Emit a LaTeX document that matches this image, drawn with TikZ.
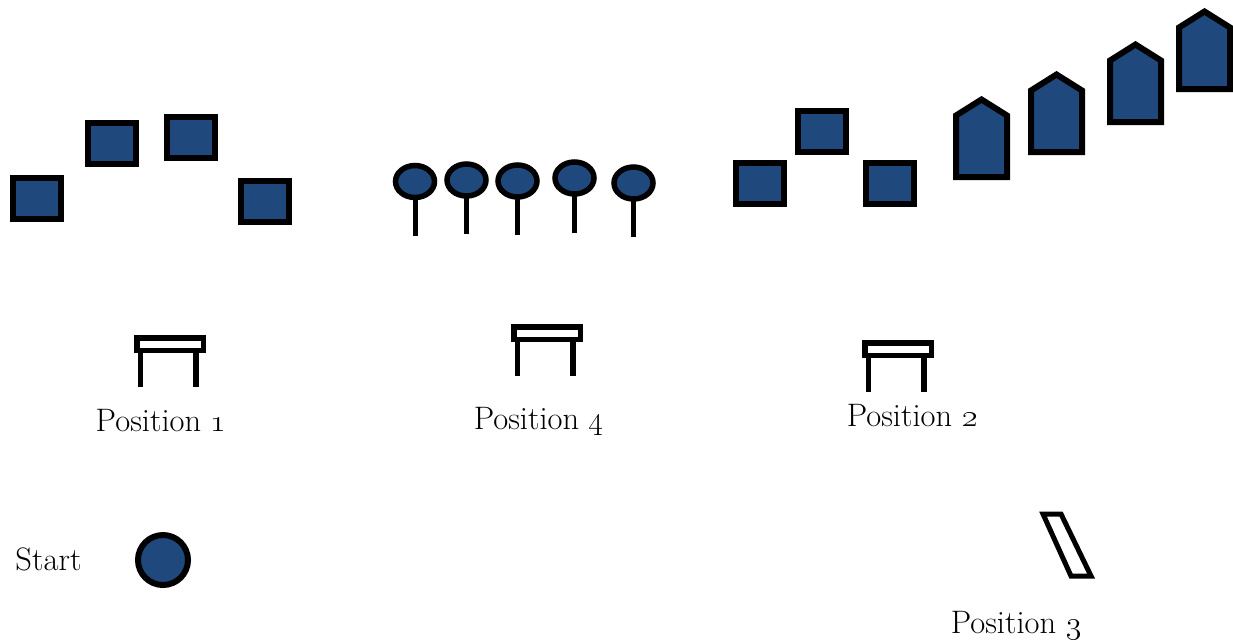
\documentclass[tikz,border=0pt]{standalone}
\usepackage{fix-cm}
\usetikzlibrary{shapes.geometric}
\definecolor{navy}{HTML}{1F497D}
\begin{document}
\begin{tikzpicture}[x=1pt,y=-1pt,
        block/.style={rectangle,draw,fill=navy,line width=6pt,inner sep=0pt,minimum width=48pt,minimum height=41pt},
        flag/.style={ellipse,draw,fill=navy,line width=5.5pt,inner sep=0pt,minimum width=39pt,minimum height=32pt},
        post/.style={line width=5pt},
        roof/.style={draw,fill=navy,line width=6pt,line join=miter},
        desk/.style={line width=5.5pt},
        caption/.style={anchor=base,inner sep=0pt,font=\fontsize{32.5}{39}\selectfont}]
    \useasboundingbox (0,0) rectangle (1233,641);
    % blocks
    \node[block] (b1) at (36.5,198) {};
    \node[block] (b2) at (112,143.5) {};
    \node[block] (b3) at (191,137.5) {};
    \node[block] (b4) at (264.5,201) {};
    \node[block] (b5) at (760,183.5) {};
    \node[block] (b6) at (822,131.5) {};
    \node[block] (b7) at (890,183) {};
    % flags
    \foreach \i/\x/\y/\b in {1/415/181.5/236,2/466.5/180/234,3/517.5/181/235,4/574.5/178/233,5/633.5/183/237} {
        \coordinate (e\i) at (\x,\b);
        \draw[post] (\x,\y) -- (e\i);
        \node[flag] (f\i) at (\x,\y) {};
    }
    % houses
    \foreach \x/\y in {953/96,1028/71,1107/41,1176/8}
        \draw[roof] ({\x+3},{\y+81}) -- ({\x+3},{\y+19.5}) -- ({\x+28.5},{\y+3.5})
            -- ({\x+54},{\y+19.5}) -- ({\x+54},{\y+81}) -- cycle;
    % desks
    \foreach \x/\y in {134/335,511/324,862/340} {
        \draw[desk] ({\x+2.75},{\y+2.75}) rectangle ({\x+69.25},{\y+15.25});
        \draw[desk] ({\x+6.5},{\y+18}) -- ({\x+6.5},{\y+52});
        \draw[desk] ({\x+62},{\y+18}) -- ({\x+62},{\y+52});
    }
    % start and position 3
    \node[circle,draw,fill=navy,line width=6pt,inner sep=0pt,minimum size=50pt] (start) at (163,560) {};
    \draw[line width=5pt,line join=miter] (1043,514) -- (1061,514) -- (1091,576) -- (1071,576) -- cycle;
    % labels
    \node[caption] (l1) at (161,431) {Position \oldstylenums{1}};
    \node[caption] (l4) at (539,429) {Position \oldstylenums{4}};
    \node[caption] (l2) at (912,426) {Position \oldstylenums{2}};
    \node[caption] (l3) at (1016,633) {Position \oldstylenums{3}};
    \node[caption] (ls) at (48.5,570) {Start};
\end{tikzpicture}
\end{document}
